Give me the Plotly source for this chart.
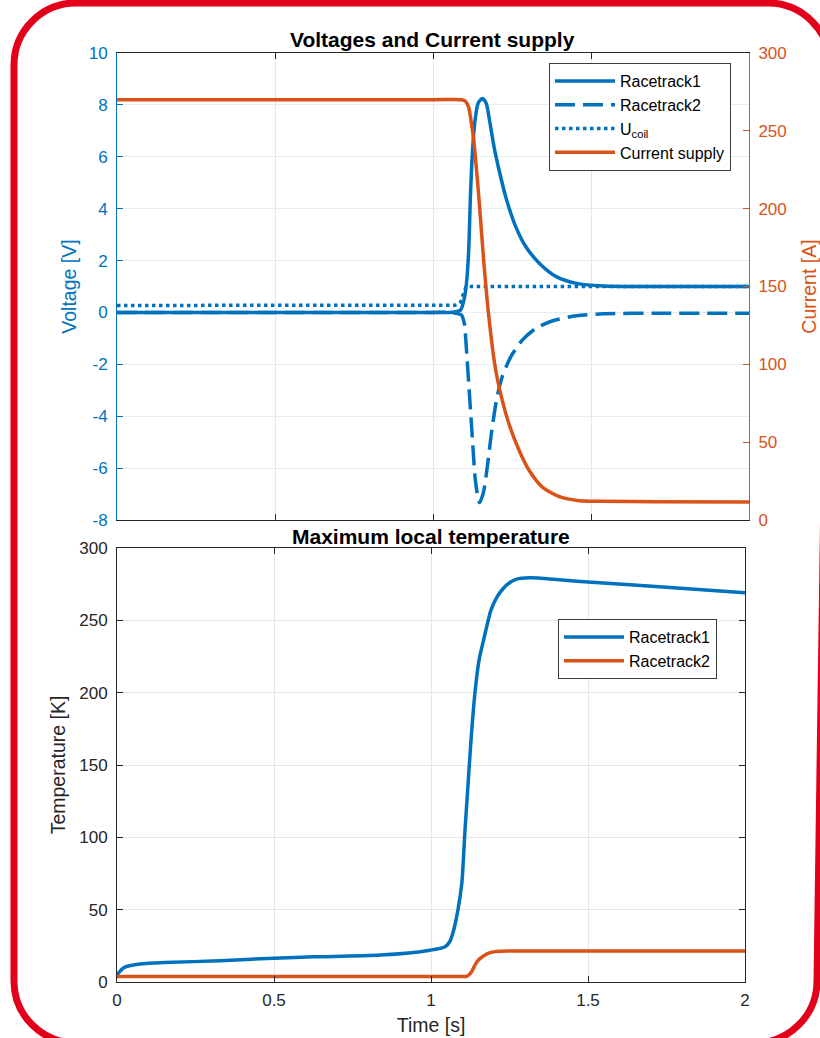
import plotly.graph_objects as go

# ---------------- data ----------------
# Top panel: voltages [V] and current supply [A] versus time [s]
t_rt1_v = [0, 0.5, 1.0, 1.054, 1.087, 1.098, 1.106, 1.113, 1.118, 1.124, 1.132, 1.143, 1.156, 1.168,
           1.179, 1.193, 1.209, 1.23, 1.262, 1.294, 1.337, 1.39, 1.454, 1.54, 1.7, 2.0]
rt1_v = [0, 0, 0, 0, 0.09, 0.48, 1.13, 2.4, 4.33, 6.0, 7.3, 8.07, 8.25, 8.07,
         7.4, 6.39, 5.49, 4.46, 3.3, 2.53, 1.89, 1.38, 1.12, 1.02, 1.0, 1.0]

t_rt2_v = [0, 0.5, 1.0, 1.054, 1.09, 1.099, 1.106, 1.113, 1.12, 1.127, 1.134, 1.147, 1.159, 1.172,
           1.185, 1.201, 1.219, 1.246, 1.283, 1.326, 1.379, 1.454, 1.54, 1.7, 2.0]
rt2_v = [0, 0, 0, 0, -0.1, -0.42, -1.45, -2.73, -4.0, -5.3, -6.46, -7.33, -6.97, -5.94,
         -4.65, -3.37, -2.48, -1.71, -1.06, -0.61, -0.32, -0.13, -0.05, -0.03, -0.03]

t_ucoil = [0, 1.07, 1.087, 1.097, 1.104, 1.11, 2.0]
ucoil = [0.27, 0.28, 0.4, 0.75, 0.97, 1.0, 1.0]

t_cur = [0, 0.5, 1.0, 1.09, 1.1026, 1.113, 1.12, 1.129, 1.146, 1.161, 1.177, 1.197, 1.219, 1.24,
         1.272, 1.304, 1.347, 1.40, 1.464, 1.53, 1.7, 2.0]
cur = [270, 270, 270, 270, 269, 265, 257, 244, 205, 165, 130, 98, 77, 62,
       45, 32, 21, 15, 12.4, 12, 11.7, 11.5]

# Bottom panel: maximum local temperature [K]
t_T1 = [0, 0.004, 0.01, 0.018, 0.025, 0.04, 0.073, 0.15, 0.328, 0.5, 0.627, 0.838, 0.997,
        1.045, 1.06, 1.07, 1.086, 1.098, 1.103, 1.108, 1.116, 1.122, 1.129, 1.14, 1.153,
        1.167, 1.18, 1.191, 1.21, 1.23, 1.25, 1.273, 1.315, 1.34, 1.4, 1.475, 1.5, 1.75, 2.0]
T1 = [3.8, 6.0, 7.5, 9.2, 10.3, 11.2, 12.4, 13.4, 14.7, 16.5, 17.4, 18.6, 22.0,
      24.4, 28, 34, 50, 68, 84, 104, 130, 150, 172, 200, 222.5,
      236, 248, 257, 266, 272, 276, 278.5, 279.4, 279.2, 278.2, 276.8, 276.5, 272.8, 269]

t_T2 = [0, 0.5, 1.0, 1.105, 1.113, 1.121, 1.129, 1.14, 1.151, 1.167, 1.188, 1.22, 1.26, 1.5, 2.0]
T2 = [3.8, 3.8, 3.8, 3.8, 3.9, 5.0, 7.1, 11.7, 15.2, 18.0, 20.3, 21.2, 21.4, 21.5, 21.5]

# tick values / labels
x_ticks = [0, 0.5, 1, 1.5, 2]
x_labels = ["0", "0.5", "1", "1.5", "2"]
v_ticks = [-8, -6, -4, -2, 0, 2, 4, 6, 8, 10]
v_labels = ["-8", "-6", "-4", "-2", "0", "2", "4", "6", "8", "10"]
i_ticks = [0, 50, 100, 150, 200, 250, 300]
i_labels = ["0", "50", "100", "150", "200", "250", "300"]
k_ticks = [0, 50, 100, 150, 200, 250, 300]
k_labels = ["0", "50", "100", "150", "200", "250", "300"]

# ---------------- layout geometry ----------------
W, H = 820, 1038
ML, MR, MT, MB = 117, 71, 53, 56
PW = W - ML - MR
PH = H - MT - MB


def fx(px):
    return (px - ML) / PW


def fy(py):
    return (H - MB - py) / PH


BLUE = "#0072BD"
ORANGE = "#D95319"
DARK = "#262626"
FONT = "Liberation Sans, Arial, Helvetica, sans-serif"
LW = 3.5
SPL = dict(shape="spline", smoothing=0.7)

fig = go.Figure()
fig.add_trace(go.Scatter(x=t_rt1_v, y=rt1_v, name="Racetrack1", mode="lines",
                         line=dict(color=BLUE, width=LW, **SPL), xaxis="x", yaxis="y", legend="legend"))
fig.add_trace(go.Scatter(x=t_rt2_v, y=rt2_v, name="Racetrack2", mode="lines",
                         line=dict(color=BLUE, width=LW, dash="20px,8px", **SPL),
                         xaxis="x", yaxis="y", legend="legend"))
fig.add_trace(go.Scatter(x=t_ucoil, y=ucoil, name="U<sub>coil</sub>", mode="lines",
                         line=dict(color=BLUE, width=LW, dash="dot"),
                         xaxis="x", yaxis="y", legend="legend"))
fig.add_trace(go.Scatter(x=t_cur, y=cur, name="Current supply", mode="lines",
                         line=dict(color=ORANGE, width=LW, **SPL), xaxis="x", yaxis="y2", legend="legend"))
fig.add_trace(go.Scatter(x=t_T1, y=T1, name="Racetrack1", mode="lines",
                         line=dict(color=BLUE, width=LW, **SPL), xaxis="x2", yaxis="y3", legend="legend2"))
fig.add_trace(go.Scatter(x=t_T2, y=T2, name="Racetrack2", mode="lines",
                         line=dict(color=ORANGE, width=LW, **SPL), xaxis="x2", yaxis="y3", legend="legend2"))

tickfont = dict(family=FONT, size=17)
titlefont = dict(family=FONT, size=19.5)
GRID = "#E6E6E6"

common_x = dict(range=[0, 2], tickvals=x_ticks, ticks="inside", ticklen=6, tickwidth=1,
                tickcolor=DARK, showline=True, linecolor=DARK, linewidth=1, mirror="ticks",
                showgrid=True, gridcolor=GRID, zeroline=False, automargin=False,
                tickfont=dict(tickfont, color=DARK))

fig.update_layout(
    width=W, height=H,
    margin=dict(l=ML, r=MR, t=MT, b=MB, pad=0, autoexpand=False),
    paper_bgcolor="white", plot_bgcolor="white",
    font=dict(family=FONT, color=DARK),
    xaxis=dict(common_x, domain=[0, 1], anchor="y", showticklabels=False),
    yaxis=dict(domain=[fy(520), 1], anchor="x", range=[-8, 10], tickvals=v_ticks, ticktext=v_labels,
               ticks="inside", ticklen=6, tickcolor=BLUE, showline=True, linecolor=BLUE,
               showgrid=True, gridcolor="#E4EEF7", zeroline=False, ticklabelstandoff=5,
               automargin=False, tickfont=dict(tickfont, color=BLUE),
               title=dict(text="Voltage [V]", font=dict(titlefont, color=BLUE), standoff=6)),
    yaxis2=dict(overlaying="y", side="right", anchor="x", range=[0, 300], tickvals=i_ticks,
                ticktext=i_labels, ticks="inside", ticklen=6, tickcolor=ORANGE, showline=True,
                linecolor=ORANGE, showgrid=False, zeroline=False, ticklabelstandoff=5,
                automargin=False, tickfont=dict(tickfont, color=ORANGE),
                title=dict(text="Current [A]", font=dict(titlefont, color=ORANGE), standoff=16)),
    xaxis2=dict(common_x, domain=[0, fx(745)], anchor="y3", ticktext=x_labels, ticklabelstandoff=3,
                title=dict(text="Time [s]", font=dict(titlefont, color=DARK), standoff=8)),
    yaxis3=dict(domain=[0, fy(548)], anchor="x2", range=[0, 300], tickvals=k_ticks, ticktext=k_labels,
                ticks="inside", ticklen=6, tickcolor=DARK, showline=True, linecolor=DARK,
                mirror="ticks", showgrid=True, gridcolor=GRID, zeroline=False, ticklabelstandoff=5,
                automargin=False, tickfont=dict(tickfont, color=DARK),
                title=dict(text="Temperature [K]", font=dict(titlefont, color=DARK), standoff=8)),
    legend=dict(x=fx(549), y=fy(63), xanchor="left", yanchor="top", bgcolor="white",
                bordercolor="#3c3c3c", borderwidth=1, font=dict(family=FONT, size=16, color="black"),
                itemwidth=60, tracegroupgap=0),
    legend2=dict(x=fx(558), y=fy(619), xanchor="left", yanchor="top", bgcolor="white",
                 bordercolor="#3c3c3c", borderwidth=1, font=dict(family=FONT, size=16, color="black"),
                 itemwidth=60, tracegroupgap=0),
    showlegend=True,
)

fig.add_annotation(text="<b>Voltages and Current supply</b>", x=fx(432), y=fy(40), xref="paper",
                   yref="paper", showarrow=False, xanchor="center", yanchor="middle",
                   font=dict(family=FONT, size=21, color="black"))
fig.add_annotation(text="<b>Maximum local temperature</b>", x=fx(431), y=fy(536), xref="paper",
                   yref="paper", showarrow=False, xanchor="center", yanchor="middle",
                   font=dict(family=FONT, size=21, color="black"))

# decorative red rounded frame (slightly skewed, as in the reference photo)
xl, yt, xr_top, xr_bot, yb, rad = 14, 3, 830, 817, 1043, 62
k = 0.5523 * rad


def P(px, py):
    return f"{fx(px):.5f},{fy(py):.5f}"


path = (f"M{P(xl + rad, yt)} L{P(xr_top - rad, yt)} "
        f"C{P(xr_top - rad + k, yt)} {P(xr_top, yt + rad - k)} {P(xr_top, yt + rad)} "
        f"L{P(xr_bot, yb - rad)} "
        f"C{P(xr_bot, yb - rad + k)} {P(xr_bot - rad + k, yb)} {P(xr_bot - rad, yb)} "
        f"L{P(xl + rad, yb)} "
        f"C{P(xl + rad - k, yb)} {P(xl, yb - rad + k)} {P(xl, yb - rad)} "
        f"L{P(xl, yt + rad)} "
        f"C{P(xl, yt + rad - k)} {P(xl + rad - k, yt)} {P(xl + rad, yt)} Z")
fig.add_shape(type="path", path=path, xref="paper", yref="paper",
              line=dict(color="#E2001A", width=7), fillcolor="rgba(0,0,0,0)")

fig.write_html("out.html")
